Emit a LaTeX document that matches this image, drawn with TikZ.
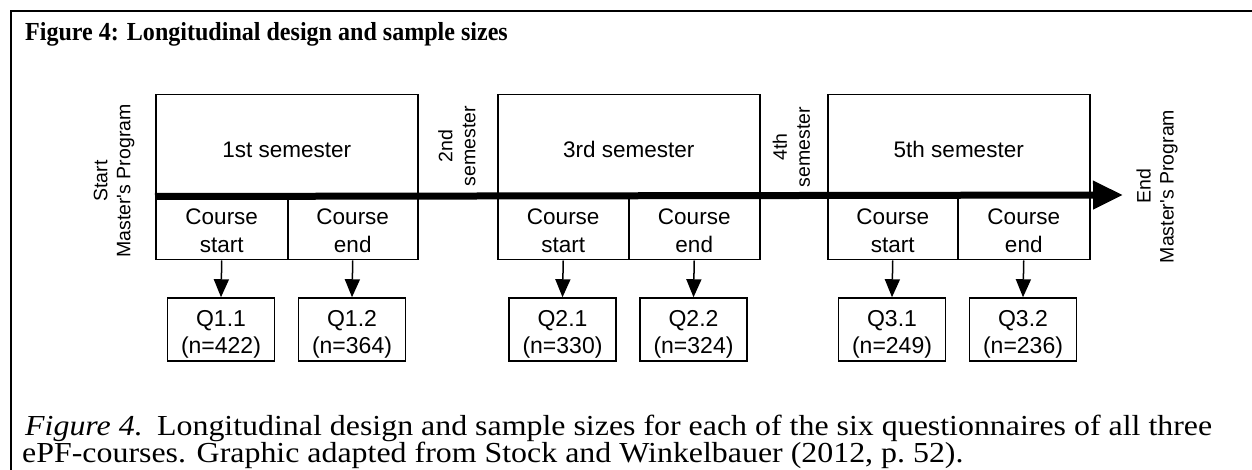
\documentclass[tikz,border=0pt]{standalone}
\usepackage{fontspec}
\setmainfont{Liberation Serif}
\newfontfamily\arialf{Liberation Sans}
\usetikzlibrary{arrows.meta}
\begin{document}
\begin{tikzpicture}[x=1pt,y=-1pt,
  box/.style={draw, line width=1.5pt, inner sep=0pt, anchor=north west},
  qbox/.style={draw, line width=1.5pt, inner sep=0pt, anchor=center, minimum width=107pt, minimum height=63pt},
  lbl/.style={font=\arialf\fontsize{22.5}{28}\selectfont, align=center, inner sep=0pt},
  qlbl/.style={font=\arialf\fontsize{23}{27}\selectfont, align=center, inner sep=0pt},
  rot/.style={font=\arialf\fontsize{19.5}{23}\selectfont, align=center, inner sep=0pt, rotate=90},
  conn/.style={line width=1.5pt, -{Triangle[length=18pt 0, width=15pt 0]}},
  timeline/.style={line width=7pt, -{Triangle[length=30pt 0, width=27pt 0]}},
  capt/.style={anchor=base west, inner sep=0pt, font=\fontsize{29}{30}\selectfont, xscale=1.1}
]
\useasboundingbox (0,0) rectangle (1252,470);
\fill[white] (0,0) rectangle (1252,470);
\draw[line width=2pt] (11,470) -- (11,11) -- (1252,11);

% title
\node[anchor=base west, inner sep=0pt, font=\bfseries\fontsize{26}{30}\selectfont, xscale=0.925] (title) at (25,41) {Figure 4: Longitudinal design and sample sizes};

% semester boxes
\node[box, minimum width=262pt, minimum height=101pt] (s1) at (155,94) {};
\node[box, minimum width=262pt, minimum height=101pt] (s3) at (497,94) {};
\node[box, minimum width=262pt, minimum height=101pt] (s5) at (827,94) {};
\node[lbl] (t1) at ([yshift=-4.5pt]s1.center) {1st semester};
\node[lbl] (t3) at ([yshift=-4.5pt]s3.center) {3rd semester};
\node[lbl] (t5) at ([yshift=-4.5pt]s5.center) {5th semester};

% course boxes
\node[box, minimum width=132pt, minimum height=64pt] (cs1) at (155,195) {};
\node[box, minimum width=130pt, minimum height=64pt] (ce1) at (287,195) {};
\node[box, minimum width=131pt, minimum height=64pt] (cs3) at (497,195) {};
\node[box, minimum width=131pt, minimum height=64pt] (ce3) at (628,195) {};
\node[box, minimum width=130pt, minimum height=64pt] (cs5) at (827,195) {};
\node[box, minimum width=132pt, minimum height=64pt] (ce5) at (957,195) {};
\foreach \n/\t in {cs1/start, ce1/end, cs3/start, ce3/end, cs5/start, ce5/end}{
  \node[lbl] (l\n) at ([yshift=-3pt]\n.center) {Course\\\t};
}

% timeline
\coordinate (tend) at (1123,195);
\draw[timeline] (s1.south west) -- (tend);

% questionnaire boxes
\node[qbox] (q11) at (221,329.5) {};
\node[qbox] (q12) at (352,329.5) {};
\node[qbox] (q21) at (562.5,329.5) {};
\node[qbox] (q22) at (693.5,329.5) {};
\node[qbox] (q31) at (892,329.5) {};
\node[qbox] (q32) at (1023,329.5) {};
\foreach \q/\a/\b in {q11/Q1.1/422, q12/Q1.2/364, q21/Q2.1/330, q22/Q2.2/324, q31/Q3.1/249, q32/Q3.2/236}{
  \node[qlbl] (l\q) at ([yshift=-5pt]\q.center) {\a\\(n=\b)};
}

% arrows
\draw[conn] (cs1.south) -- (q11.north);
\draw[conn] (ce1.south) -- (q12.north);
\draw[conn] (cs3.south) -- (q21.north);
\draw[conn] (ce3.south) -- (q22.north);
\draw[conn] (cs5.south) -- (q31.north);
\draw[conn] (ce5.south) -- (q32.north);

% rotated labels
\node[rot] (start) at (114,181) {Start\\Master's Program};
\node[rot] (sem2) at (457,146) {2nd\\semester};
\node[rot] (sem4) at (791.5,147) {4th\\semester};
\node[rot] (endl) at (1157,186.5) {End\\Master's Program};

% caption
\node[capt] (cap1) at (25,435) {\textit{Figure 4.}\hspace{0.45em}Longitudinal design and sample sizes for each of the six questionnaires of all three};
\node[capt] (cap2) at (22,462) {ePF-courses. Graphic adapted from Stock and Winkelbauer (2012, p.~52).};
\end{tikzpicture}
\end{document}
